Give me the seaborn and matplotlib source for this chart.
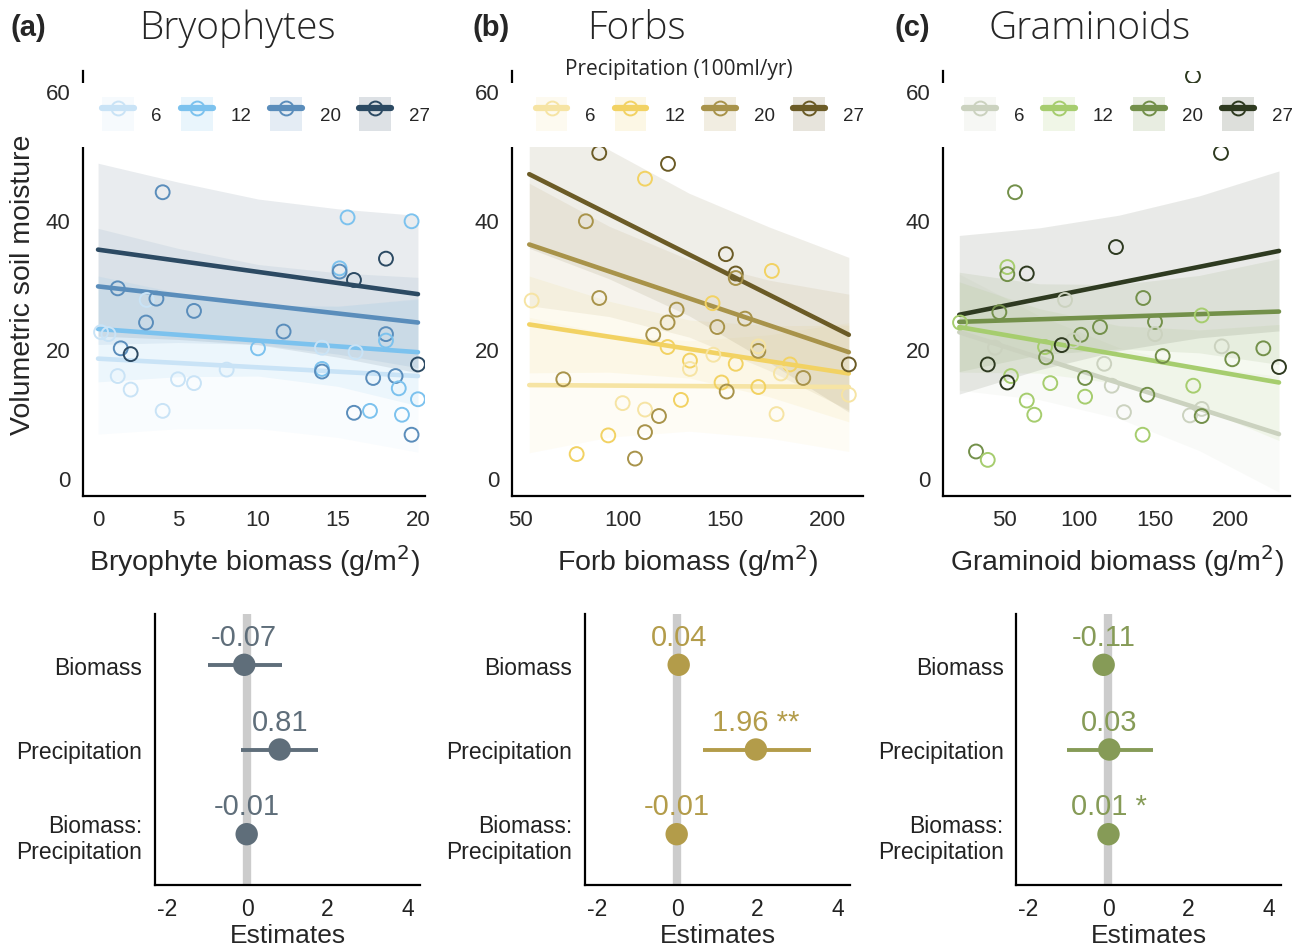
import numpy as np
import pandas as pd
import matplotlib
matplotlib.use('Agg')
import matplotlib.pyplot as plt
from matplotlib.patches import Patch, Rectangle
from matplotlib.lines import Line2D
import seaborn as sns

sns.set_style('white')
plt.rcParams['font.family'] = ['Liberation Sans', 'DejaVu Sans']
plt.rcParams['axes.unicode_minus'] = False

levels = [6, 12, 20, 27]

# ---- Bryophytes ----
bryo_x = [4.04, 15.6, 19.6, 18.0, 15.1, 15.1, 16.0, 1.23, 3.04, 3.65, 6.0, 3.0, 11.6, 0.19,
          0.65, 18.0, 18.0, 10.0, 14.0, 16.1, 1.42, 2.04, 20.0, 8.04, 14.0, 14.0, 1.23, 5.0,
          6.0, 2.04, 17.2, 18.6, 18.8, 20.0, 4.04, 16.0, 17.0, 19.0, 19.6]
bryo_y = [44.3, 40.4, 39.8, 34.0, 32.5, 32.0, 30.7, 29.4, 27.6, 27.8, 25.9, 24.1, 22.7, 22.6,
          22.3, 22.3, 21.3, 20.1, 20.2, 19.5, 20.1, 19.2, 17.6, 16.8, 16.9, 16.5, 15.8, 15.3,
          14.7, 13.7, 15.5, 15.8, 13.9, 12.2, 10.4, 10.1, 10.4, 9.8, 6.7]
bryo_p = [20, 12, 12, 27, 12, 20, 27, 20, 6, 20, 20, 20, 20, 6,
          6, 20, 12, 12, 6, 6, 20, 27, 27, 6, 12, 20, 6, 6,
          6, 6, 20, 20, 12, 12, 6, 20, 12, 12, 20]
bryo_fit_x = [0, 20]
bryo_fit = {6: [18.5, 15.8], 12: [23.1, 19.5], 20: [29.7, 24.1], 27: [35.4, 28.5]}
bryo_band_x = [0, 5, 10, 15, 20]
bryo_band_hw = {6: [11.7, 10.2, 9.5, 10.2, 11.8], 12: [8.2, 6.5, 5.5, 6.2, 8.3],
                20: [9.0, 7.3, 6.2, 6.3, 7.0], 27: [13.4, 12.2, 11.3, 11.5, 12.2]}
bryo_colors = ['#c9e3f6', '#7cc2ee', '#5a8dbb', '#2c4a63']

# ---- Forbs ----
forb_x = [88.6, 122.1, 110.9, 82.1, 150.3, 155.1, 155.1, 172.7, 55.7, 88.6, 143.8, 126.3,
          121.9, 159.6, 146.1, 114.9, 121.9, 166.1, 166.1, 144.2, 132.8, 132.8, 155.1, 181.5,
          177.1, 210.2, 71.1, 188.0, 148.2, 166.1, 150.7, 210.2, 128.4, 100.0, 110.9, 175.0,
          117.7, 110.9, 93.0, 77.6, 106.0]
forb_y = [50.4, 48.7, 46.4, 39.8, 34.7, 31.7, 31.0, 32.1, 27.5, 27.9, 27.1, 26.1,
          24.1, 24.7, 23.4, 22.2, 20.3, 19.7, 20.4, 19.1, 18.2, 16.9, 17.7, 17.6,
          16.2, 17.6, 15.3, 15.5, 14.8, 14.1, 13.4, 12.9, 12.1, 11.6, 10.6, 9.9,
          9.6, 7.1, 6.6, 3.7, 3.0]
forb_p = [27, 27, 12, 20, 27, 27, 20, 12, 6, 20, 12, 20,
          20, 20, 20, 20, 12, 20, 6, 6, 12, 6, 12, 12,
          6, 27, 20, 20, 12, 12, 20, 6, 12, 6, 6, 6,
          20, 20, 12, 12, 20]
forb_fit_x = [54.5, 210.2]
forb_fit = {6: [14.4, 14.1], 12: [23.8, 16.2], 20: [36.2, 19.5], 27: [47.1, 22.2]}
forb_band_x = [54.5, 93.4, 132.4, 171.3, 210.2]
forb_band_hw = {6: [10.5, 8.0, 7.0, 8.0, 10.0], 12: [7.5, 5.5, 4.5, 5.5, 7.5],
                20: [9.5, 7.0, 6.0, 7.0, 9.0], 27: [11.5, 10.0, 9.5, 10.5, 12.0]}
forb_colors = ['#f6e4a4', '#f2d263', '#a8934a', '#6b5b26']

# ---- Graminoids ----
gram_x = [194.0, 57.3, 124.3, 52.2, 52.2, 65.1, 90.5, 142.4, 46.9, 181.2, 20.8, 150.2,
          113.7, 101.1, 150.2, 96.0, 77.2, 88.3, 44.0, 77.9, 155.3, 194.5, 201.5, 222.1,
          232.5, 39.2, 116.5, 54.6, 52.2, 80.7, 103.8, 121.5, 175.6, 65.1, 103.8, 145.1,
          70.1, 129.6, 173.4, 181.2, 181.2, 142.0, 31.4, 39.2, 175.4]
gram_y = [50.4, 44.3, 35.8, 32.7, 31.6, 31.7, 27.6, 27.9, 25.7, 25.2, 24.1, 24.2,
          23.4, 22.2, 22.3, 21.3, 20.3, 20.6, 20.2, 18.7, 18.9, 20.4, 18.4, 20.1,
          17.2, 17.6, 17.7, 15.8, 14.8, 14.7, 15.5, 14.3, 14.3, 12.0, 12.6, 12.9,
          9.8, 10.2, 9.7, 10.7, 9.6, 6.7, 4.1, 2.8, 62.3]
gram_p = [27, 20, 27, 12, 20, 27, 6, 20, 20, 12, 12, 20,
          20, 20, 6, 6, 12, 27, 6, 20, 20, 6, 20, 20,
          27, 27, 6, 12, 27, 12, 20, 6, 12, 12, 12, 20,
          12, 6, 6, 6, 20, 12, 20, 12, 27]
gram_fit_x = [20.3, 232.5]
gram_fit = {6: [22.6, 6.8], 12: [23.4, 14.8], 20: [24.2, 25.8], 27: [25.3, 35.2]}
gram_band_x = [20.3, 73.4, 126.4, 179.5, 232.5]
gram_band_hw = {6: [9.0, 6.5, 5.5, 6.5, 9.0], 12: [7.0, 5.0, 4.5, 6.0, 9.0],
                20: [7.7, 5.5, 5.0, 6.0, 8.2], 27: [12.3, 11.0, 10.5, 11.0, 12.4]}
gram_colors = ['#cbd2bf', '#a6cd6e', '#73904a', '#2e3a20']

# ---- Model estimates (bottom row) ----
terms = ['Biomass', 'Precipitation', 'Biomass:\nPrecipitation']
bryo_est = [-0.07, 0.81, -0.01]
bryo_lo = [-0.97, -0.15, -0.03]
bryo_hi = [0.87, 1.76, 0.01]
bryo_lab = ['-0.07', '0.81', '-0.01']
forb_est = [0.04, 1.96, -0.01]
forb_lo = [0.02, 0.64, -0.03]
forb_hi = [0.06, 3.33, 0.01]
forb_lab = ['0.04', '1.96 **', '-0.01']
gram_est = [-0.11, 0.03, 0.01]
gram_lo = [-0.13, -1.01, -0.01]
gram_hi = [-0.09, 1.11, 0.03]
gram_lab = ['-0.11', '0.03', '0.01 *']
est_colors = ['#5f6e7a', '#b39c4a', '#869b57']

W, H = 1294, 953
fig = plt.figure(figsize=(W / 100, H / 100), dpi=100)


def px_axes(left, top, right, bottom):
    return fig.add_axes([left / W, 1 - bottom / H, (right - left) / W, (bottom - top) / H])


def scatter_panel(ax, xs, ys, ps, fit_x, fit, band_x, band_hw, colors, xlim, xticks, xlabel,
                  show_title=False):
    pal = dict(zip(levels, colors))
    for lev in levels:
        centre = np.interp(band_x, fit_x, fit[lev])
        hw = np.array(band_hw[lev])
        ax.fill_between(band_x, centre - hw, centre + hw, color=pal[lev], alpha=0.10,
                        lw=0, zorder=1)
    fit_df = pd.DataFrame({'x': fit_x * 4,
                           'y': sum([fit[l] for l in levels], []),
                           'precip': np.repeat(levels, len(fit_x))})
    sns.lineplot(data=fit_df, x='x', y='y', hue='precip', palette=pal, lw=3.3,
                 legend=False, ax=ax, zorder=2)
    pts = pd.DataFrame({'x': xs, 'y': ys, 'precip': ps})
    sns.scatterplot(data=pts, x='x', y='y', hue='precip', palette=pal, s=100,
                    legend=False, ax=ax, zorder=3)
    coll = ax.collections[-1]
    coll.set_edgecolors(coll.get_facecolors())
    coll.set_facecolors('none')
    coll.set_linewidth(1.4)

    ax.set_xlim(*xlim)
    ax.set_ylim(-2.8, 63.1)
    ax.set_xticks(xticks)
    ax.set_yticks([0, 20, 40, 60])
    ax.tick_params(length=0, labelsize=16, pad=9, colors='#2a2a2a')
    ax.set_xlabel(xlabel, fontsize=20.5, labelpad=9)
    ax.set_ylabel('')
    for side in ['top', 'right']:
        ax.spines[side].set_visible(False)
    for side in ['left', 'bottom']:
        ax.spines[side].set_color('black')
        ax.spines[side].set_linewidth(1.6)

    # white strip behind the legend hides the top of the plot, as in the original
    ax.add_patch(Rectangle((-0.03, 0.822), 1.04, 0.15, transform=ax.transAxes,
                           facecolor='white', edgecolor='none', zorder=4, clip_on=False))
    handles = [(Patch(facecolor=pal[l], alpha=0.16, edgecolor='none'),
                Line2D([], [], color=pal[l], lw=4.5, marker='o', ms=10,
                       mfc='none', mec=pal[l], mew=1.4)) for l in levels]
    leg = ax.legend(handles, [str(l) for l in levels], ncol=4, loc='center',
                    bbox_to_anchor=(0.535, 0.899), frameon=False, fontsize=13.5,
                    handlelength=1.7, handleheight=2.4, handletextpad=0.95,
                    columnspacing=1.0, borderpad=0.2)
    leg.set_zorder(5)
    if show_title:
        ax.text(0.476, 1.005, 'Precipitation (100ml/yr)', transform=ax.transAxes,
                fontsize=15, family='Open Sans', ha='center', va='center', zorder=6)


def estimate_panel(ax, est, lo, hi, labs, color):
    ax.axvline(0, color='#cccccc', lw=6, zorder=0)
    df = pd.DataFrame({'term': terms, 'est': est, 'lo': lo, 'hi': hi})
    ax.hlines(df['term'], df['lo'], df['hi'], color=color, lw=2.8, zorder=2)
    sns.scatterplot(data=df, x='est', y='term', color=color, s=260, edgecolor='none',
                    ax=ax, zorder=3)
    for i, (e, lab) in enumerate(zip(est, labs)):
        ax.text(e, i - 0.33, lab, color=color, fontsize=21, ha='center', va='center')
    ax.set_ylim(2.6, -0.6)
    ax.set_xlim(-2.29, 4.3)
    ax.set_xticks([-2, 0, 2, 4])
    ax.set_xlabel('Estimates', fontsize=19, labelpad=2)
    ax.set_ylabel('')
    ax.tick_params(length=5, width=1.4, labelsize=16.5, pad=4, colors='black',
                   labelcolor='#222222')
    for side in ['top', 'right']:
        ax.spines[side].set_visible(False)
    for side in ['left', 'bottom']:
        ax.spines[side].set_color('black')
        ax.spines[side].set_linewidth(1.6)


ax_a = px_axes(83, 72, 425, 497)
ax_b = px_axes(512, 72, 863, 497)
ax_c = px_axes(943, 72, 1290, 497)

scatter_panel(ax_a, bryo_x, bryo_y, bryo_p, bryo_fit_x, bryo_fit, bryo_band_x, bryo_band_hw,
              bryo_colors, (-0.94, 20.44), [0, 5, 10, 15, 20], 'Bryophyte biomass (g/m$^2$)')
scatter_panel(ax_b, forb_x, forb_y, forb_p, forb_fit_x, forb_fit, forb_band_x, forb_band_hw,
              forb_colors, (46.1, 217.1), [50, 100, 150, 200], 'Forb biomass (g/m$^2$)',
              show_title=True)
scatter_panel(ax_c, gram_x, gram_y, gram_p, gram_fit_x, gram_fit, gram_band_x, gram_band_hw,
              gram_colors, (9.5, 239.8), [50, 100, 150, 200], 'Graminoid biomass (g/m$^2$)')
ax_a.set_ylabel('Volumetric soil moisture', fontsize=20.5, labelpad=7)

bx_a = px_axes(155, 615, 420, 886)
bx_b = px_axes(585, 615, 850, 886)
bx_c = px_axes(1016, 615, 1281, 886)
estimate_panel(bx_a, bryo_est, bryo_lo, bryo_hi, bryo_lab, est_colors[0])
estimate_panel(bx_b, forb_est, forb_lo, forb_hi, forb_lab, est_colors[1])
estimate_panel(bx_c, gram_est, gram_lo, gram_hi, gram_lab, est_colors[2])

for x0, tag, title_x, title in [(10, '(a)', 237, 'Bryophytes'), (472, '(b)', 636, 'Forbs'),
                                (895, '(c)', 1090, 'Graminoids')]:
    fig.text(x0 / W, 1 - 28 / H, tag, fontsize=21, fontweight='bold', va='center', ha='left')
    fig.text(title_x / W, 1 - 29 / H, title, fontsize=28, va='center', ha='center',
             family='Open Sans', fontweight='light')

fig.savefig('out.png', dpi=100, facecolor='white')
